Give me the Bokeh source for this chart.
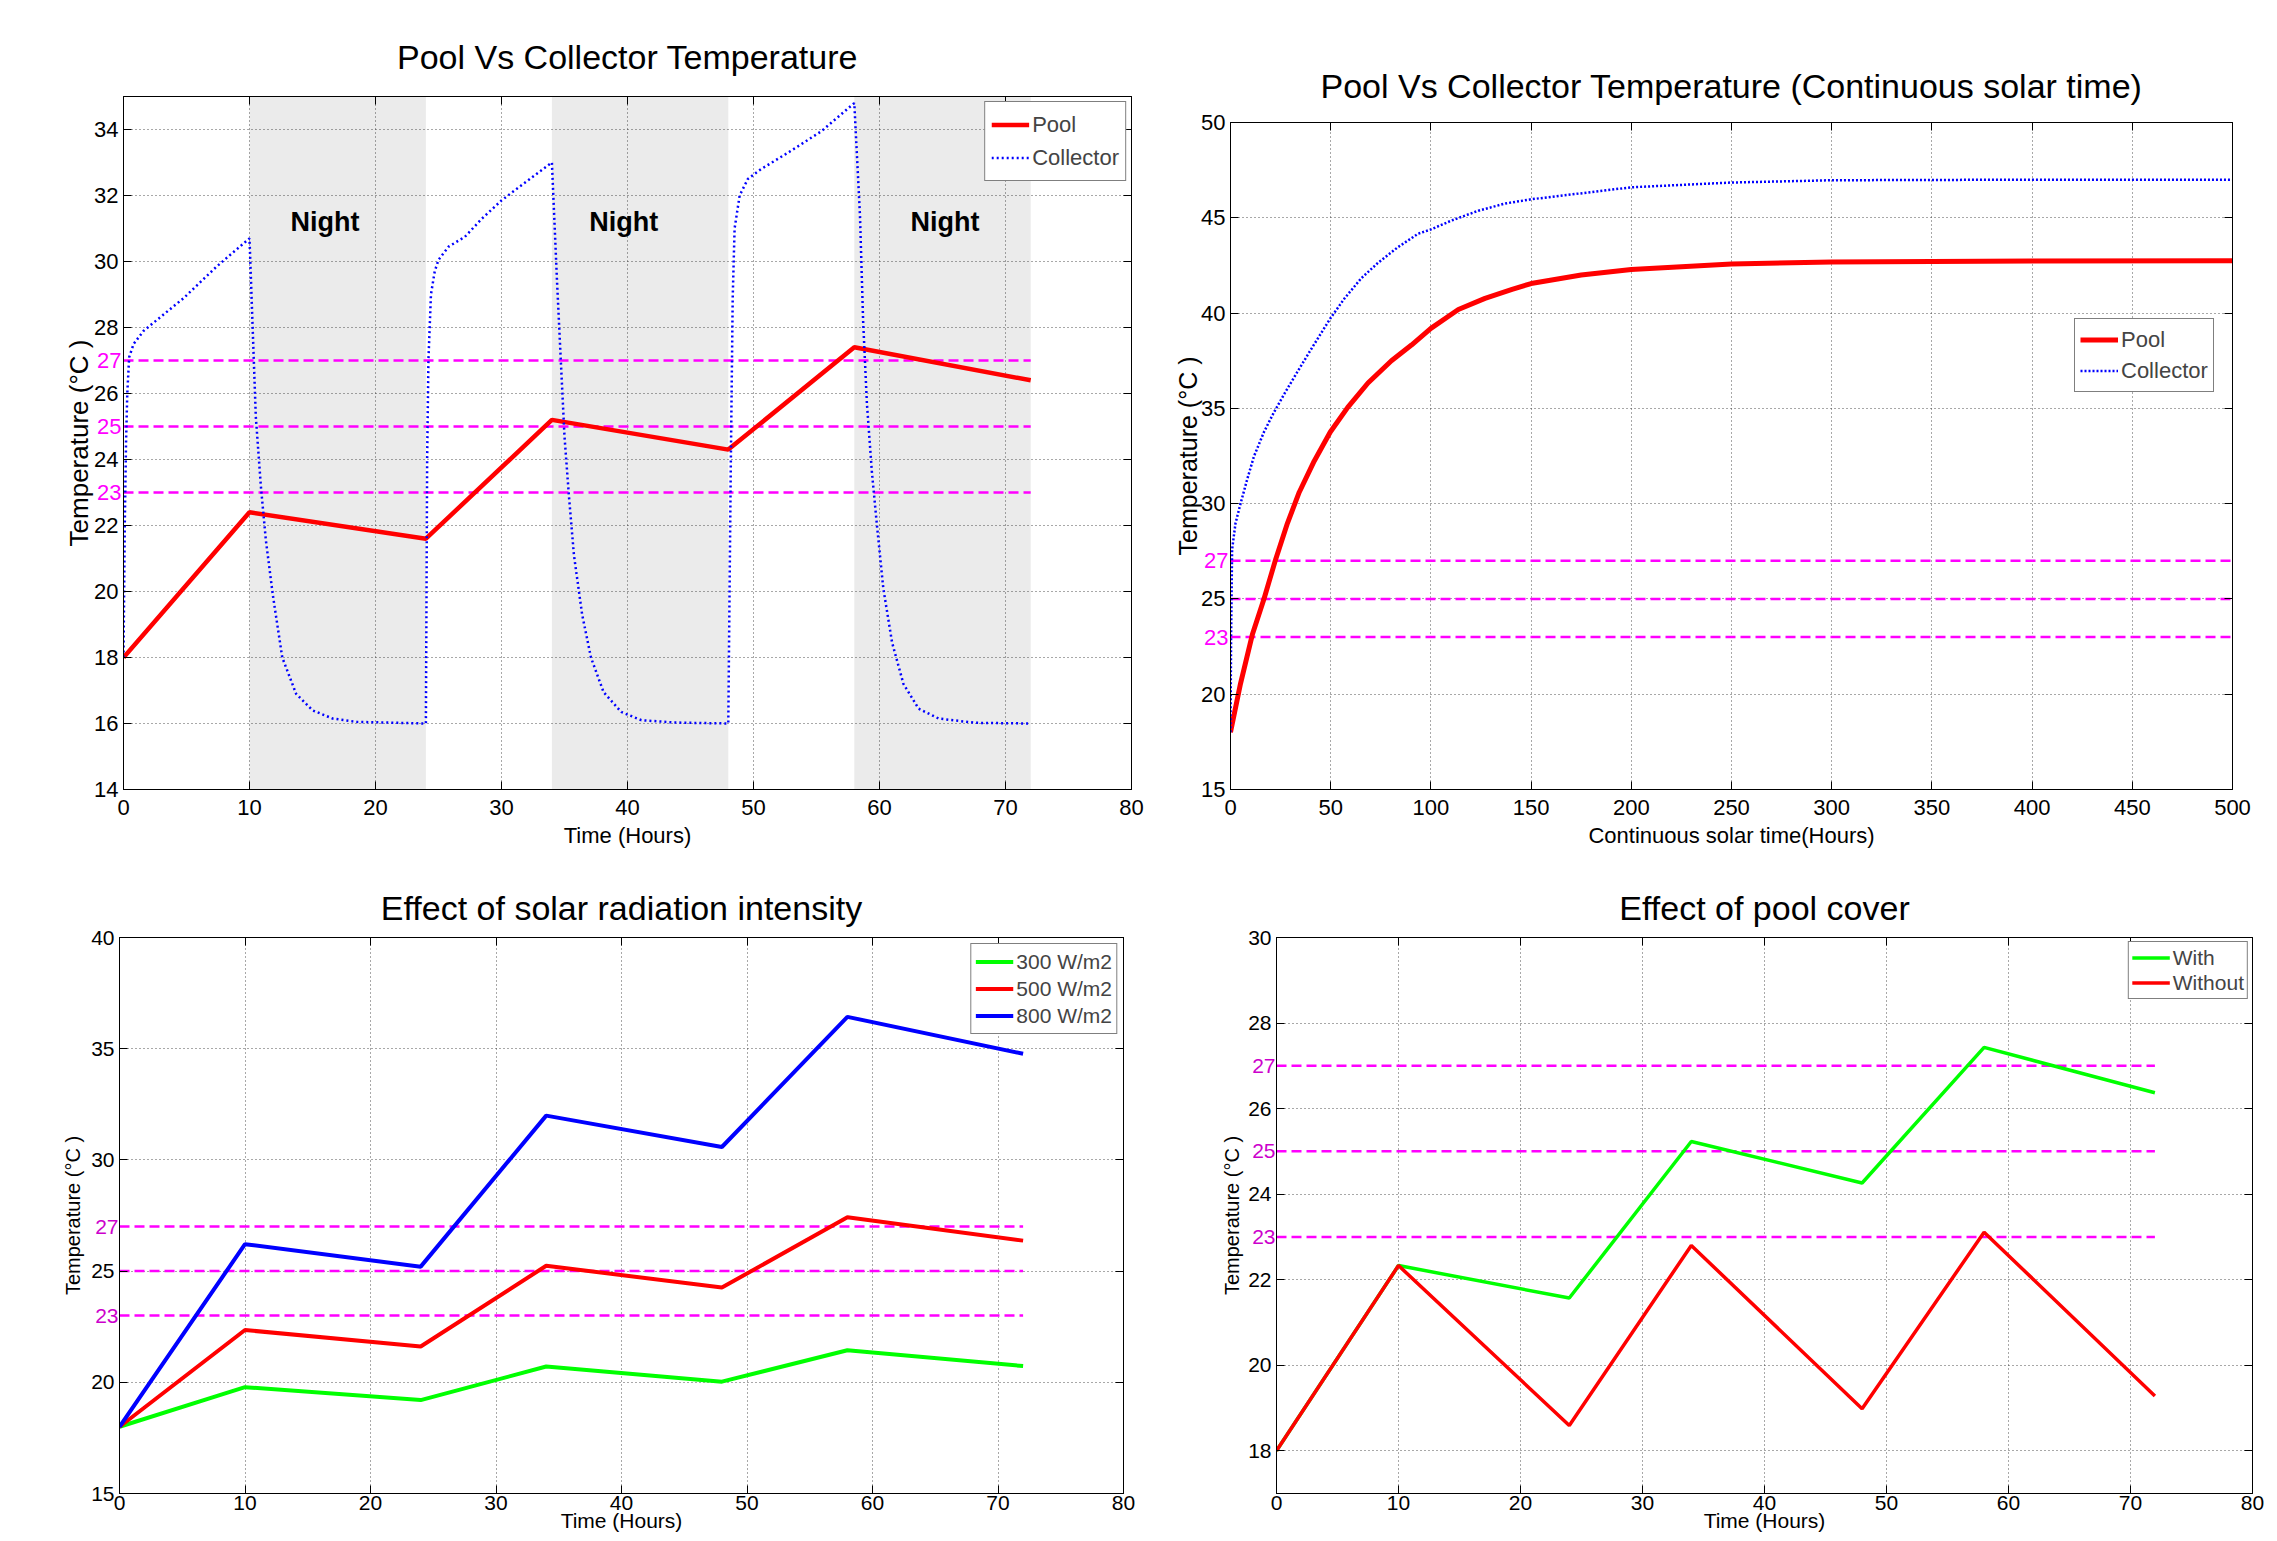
from bokeh.plotting import figure
from bokeh.models import (Range1d, LinearAxis, FixedTicker, BoxAnnotation, Spacer,
                          Legend, LegendItem, ColumnDataSource, CustomJSTickFormatter)
from bokeh.layouts import row, column
from bokeh.core.properties import value
from bokeh.embed import file_html
from bokeh.resources import INLINE

# ---------------- data ----------------
hours_knots = [0, 10, 24, 34, 48, 58, 72]
pool_temp = [18.0, 22.4, 21.6, 25.2, 24.3, 27.4, 26.4]

night_start = [10, 34, 58]
night_end = [24, 48, 72]
night_label_x = [16.0, 39.7, 65.2]
night_label_y = [31.2, 31.2, 31.2]
night_text = ["Night", "Night", "Night"]

collector_time = [0, 0.1, 0.2, 0.3, 0.45, 0.8, 1.6, 2.4, 4.8, 7.4, 10.0,
                  10.25, 10.5, 10.9, 11.3, 11.85, 12.6, 13.7, 15.0, 16.6, 18.5, 24.0,
                  24.05, 24.1, 24.2, 24.4, 24.7, 25.0, 25.8, 27.1, 28.45, 30.0, 31.9, 34.0,
                  34.4, 34.7, 35.0, 35.35, 35.75, 36.4, 37.1, 38.1, 39.5, 41.1, 43.7, 48.0,
                  48.1, 48.2, 48.35, 48.5, 48.9, 49.55, 50.6, 52.75, 55.4, 58.0,
                  58.45, 58.7, 59.0, 59.4, 59.8, 60.3, 61.0, 61.9, 63.1, 64.7, 67.6, 72.0]
collector_temp = [18.0, 22.0, 24.5, 26.0, 27.1, 27.5, 27.9, 28.15, 28.9, 29.85, 30.7,
                  28.0, 25.3, 23.2, 21.55, 19.9, 18.0, 16.9, 16.4, 16.15, 16.05, 16.0,
                  20.0, 24.0, 27.0, 29.0, 29.7, 30.05, 30.45, 30.75, 31.3, 31.85, 32.4, 33.0,
                  29.45, 27.05, 24.7, 22.9, 21.1, 19.3, 18.0, 16.95, 16.35, 16.1, 16.03, 16.0,
                  20.0, 23.9, 28.9, 31.0, 32.0, 32.5, 32.8, 33.3, 33.95, 34.8,
                  31.4, 28.2, 25.7, 23.6, 22.0, 20.1, 18.45, 17.2, 16.45, 16.15, 16.02, 16.0]

ref_levels = [23, 25, 27]

cont_time = [0, 5, 10.9, 16.7, 22.6, 28.4, 34.3, 41.8, 49.8, 58.5, 68.6, 80.3, 90.3,
             100, 113.7, 127, 140.5, 150, 175, 200, 250, 300, 400, 500]
cont_pool = [18.0, 20.56, 23.13, 25.0, 27.1, 28.97, 30.6, 32.24, 33.76, 35.05, 36.33,
             37.5, 38.32, 39.2, 40.19, 40.77, 41.24, 41.55, 42.0, 42.29, 42.57, 42.68,
             42.73, 42.74]
cont_coll_time = [0, 0.3, 0.8, 2.5, 5, 8.4, 11.7, 16.7, 21.7, 26.8, 33.4, 40.1, 49.8,
                  56.9, 65.2, 73.6, 83.6, 93.6, 100, 110.4, 123.7, 137.1, 150, 200, 250,
                  300, 400, 500]
cont_coll = [18.0, 23.1, 27.6, 28.97, 30.0, 31.3, 32.48, 33.76, 34.8, 35.75, 36.92,
             38.08, 39.72, 40.77, 41.82, 42.64, 43.46, 44.16, 44.39, 44.86, 45.37, 45.75,
             45.97, 46.6, 46.85, 46.97, 47.0, 47.0]

rad300 = [18.0, 19.78, 19.2, 20.71, 20.03, 21.44, 20.73]
rad500 = [18.0, 22.35, 21.61, 25.24, 24.26, 27.42, 26.37]
rad800 = [18.0, 26.21, 25.2, 31.99, 30.58, 36.43, 34.77]

with_cover = [18.0, 22.33, 21.57, 25.23, 24.26, 27.43, 26.37]
without_cover = [18.0, 22.33, 18.59, 22.8, 18.98, 23.11, 19.28]

x_ticks_hours = [0, 10, 20, 30, 40, 50, 60, 70, 80]
y_ticks_p1 = [14, 16, 18, 20, 22, 24, 26, 28, 30, 32, 34]
x_ticks_p2 = [0, 50, 100, 150, 200, 250, 300, 350, 400, 450, 500]
y_ticks_p2 = [15, 20, 25, 30, 35, 40, 45, 50]
y_ticks_p3 = [15, 20, 25, 30, 35, 40]
y_ticks_p4 = [18, 20, 22, 24, 26, 28, 30]

# ---------------- styling ----------------
SANS = "Liberation Sans"
MAGENTA = "#ff00ff"
PURPLE = "#cc00cc"
GRID = "#333333"


def blank_axis(ticks):
    return LinearAxis(ticker=FixedTicker(ticks=ticks),
                      formatter=CustomJSTickFormatter(code="return ''"),
                      major_tick_in=8, major_tick_out=0, minor_tick_in=0, minor_tick_out=0,
                      major_label_text_font_size="1px", major_label_standoff=0,
                      axis_line_color="black", major_tick_line_color="black")


def make_fig(w, h, borders, xr, yr, xt, yt, title, title_standoff, tick_fs,
             xlabel, xlabel_fs, x_tick_standoff, x_label_standoff,
             ylabel, ylabel_fs, y_label_standoff, mag_labels, mag_color):
    left, right, top, bottom = borders
    p = figure(width=w, height=h, x_range=Range1d(*xr), y_range=Range1d(*yr),
               output_backend="svg", toolbar_location=None,
               x_axis_location=None, y_axis_location=None,
               min_border_left=left, min_border_right=right,
               min_border_top=top, min_border_bottom=bottom,
               background_fill_color="white", border_fill_color="white")
    p.title.text = title
    p.title.align = "center"
    p.title.text_font = SANS
    p.title.text_font_size = "34px"
    p.title.text_font_style = "normal"
    p.title.text_color = "black"
    p.title.standoff = title_standoff
    p.outline_line_color = "black"
    p.outline_line_width = 1
    p.outline_line_alpha = 1

    xa = LinearAxis(ticker=FixedTicker(ticks=xt), major_tick_in=8, major_tick_out=0,
                    minor_tick_in=0, minor_tick_out=0, axis_line_color="black",
                    major_tick_line_color="black", major_label_text_font=SANS,
                    major_label_text_font_size=tick_fs, major_label_text_color="black",
                    major_label_standoff=x_tick_standoff,
                    axis_label=xlabel, axis_label_text_font=SANS,
                    axis_label_text_font_size=xlabel_fs, axis_label_text_font_style="normal",
                    axis_label_text_color="black", axis_label_standoff=x_label_standoff)
    p.add_layout(xa, "below")
    # inner y axis: ticks + black labels
    ya = LinearAxis(ticker=FixedTicker(ticks=yt), major_tick_in=8, major_tick_out=0,
                    minor_tick_in=0, minor_tick_out=0, axis_line_color="black",
                    major_tick_line_color="black", major_label_text_font=SANS,
                    major_label_text_font_size=tick_fs, major_label_text_color="black",
                    major_label_standoff=5)
    p.add_layout(ya, "left")
    # outer y axis: coloured reference labels laid onto the same column + axis title
    ym = LinearAxis(ticker=FixedTicker(ticks=mag_labels), major_tick_in=0, major_tick_out=0,
                    minor_tick_in=0, minor_tick_out=0, axis_line_color=None,
                    major_tick_line_color=None, major_label_text_font=SANS,
                    major_label_text_font_size=tick_fs, major_label_text_color=mag_color,
                    major_label_standoff=-30,
                    axis_label=ylabel, axis_label_text_font=SANS,
                    axis_label_text_font_size=ylabel_fs, axis_label_text_font_style="normal",
                    axis_label_text_color="black", axis_label_standoff=y_label_standoff)
    p.add_layout(ym, "left")
    p.add_layout(blank_axis(xt), "above")
    p.add_layout(blank_axis(yt), "right")
    for g, tk in ((p.xgrid[0], xt), (p.ygrid[0], yt)):
        g.ticker = FixedTicker(ticks=tk)
        g.grid_line_color = GRID
        g.grid_line_dash = "1 3"
        g.grid_line_width = 1
        g.grid_line_alpha = 0.85
    return p


def ref_lines(p, x0, x1):
    src = ColumnDataSource(dict(x0=[x0] * len(ref_levels), x1=[x1] * len(ref_levels),
                                y=ref_levels))
    p.segment(x0="x0", x1="x1", y0="y", y1="y", source=src, line_color=MAGENTA,
              line_width=2.5, line_dash="10 5")


def legend(p, items, loc, fs, row_h, glyph_w, padding, margin):
    lg = Legend(items=[LegendItem(label=l, renderers=[r]) for l, r in items],
                location=loc, label_text_font=SANS, label_text_font_size=fs,
                label_height=row_h, glyph_height=row_h, glyph_width=glyph_w,
                label_standoff=3, padding=padding, spacing=0, margin=margin,
                border_line_color="black", border_line_width=1,
                background_fill_color="white", background_fill_alpha=1)
    p.add_layout(lg)


# ---------------- panel 1 ----------------
p1 = make_fig(1160, 862, (123, 29, 96, 73), (0, 80), (14, 35), x_ticks_hours, y_ticks_p1,
              "Pool Vs Collector Temperature", 42, "22px",
              "Time (Hours)", "22px", 10, 5,
              "Temperature (°C )", "26px", 0, [23, 25, 27], MAGENTA)
for s, e in zip(night_start, night_end):
    p1.add_layout(BoxAnnotation(left=s, right=e, fill_color="#ebebeb", fill_alpha=1,
                                line_alpha=0, level="image"))
p1.text(x="x", y="y", text="t",
        source=ColumnDataSource(dict(x=night_label_x, y=night_label_y, t=night_text)),
        text_font=value(SANS), text_font_style="bold", text_font_size="27px",
        text_align="center", text_baseline="middle", text_color="black")
ref_lines(p1, hours_knots[0], hours_knots[-1])
r_pool = p1.line(hours_knots, pool_temp, line_color="#ff0000", line_width=4.5)
r_coll = p1.line(collector_time, collector_temp, line_color="#0000ff", line_width=2.5,
                 line_dash="2 3")
legend(p1, [("Pool", r_pool), ("Collector", r_coll)], "top_right", "22px", 33, 38, 6, 5)

# ---------------- panel 2 ----------------
p2 = make_fig(1110, 836, (70, 38, 96, 73), (0, 500), (15, 50), x_ticks_p2, y_ticks_p2,
              "Pool Vs Collector Temperature (Continuous solar time)", 36, "22px",
              "Continuous solar time(Hours)", "22px", 10, 5,
              "Temperature (°C )", "25px", -1, [23, 27], MAGENTA)
ref_lines(p2, cont_time[0], cont_time[-1])
r2_pool = p2.line(cont_time, cont_pool, line_color="#ff0000", line_width=5)
r2_coll = p2.line(cont_coll_time, cont_coll, line_color="#0000ff", line_width=2.5,
                  line_dash="2 2")
legend(p2, [("Pool", r2_pool), ("Collector", r2_coll)], (844, 397), "22px", 31, 38, 5, 0)

# ---------------- panel 3 ----------------
p3 = make_fig(1190, 677, (119, 67, 75, 46), (0, 80), (15, 40), x_ticks_hours, y_ticks_p3,
              "Effect of solar radiation intensity", 22, "21px",
              "Time (Hours)", "21px", 2, -4,
              "Temperature (°C )", "20px", 8, [23, 27], PURPLE)
ref_lines(p3, hours_knots[0], hours_knots[-1])
r300 = p3.line(hours_knots, rad300, line_color="#00ff00", line_width=4)
r500 = p3.line(hours_knots, rad500, line_color="#ff0000", line_width=4)
r800 = p3.line(hours_knots, rad800, line_color="#0000ff", line_width=4)
legend(p3, [("300 W/m2", r300), ("500 W/m2", r500), ("800 W/m2", r800)], "top_right",
       "21px", 27, 38, 4, 6)

# ---------------- panel 4 ----------------
p4 = make_fig(1080, 677, (86, 18, 75, 46), (0, 80), (17, 30), x_ticks_hours, y_ticks_p4,
              "Effect of pool cover", 22, "21px",
              "Time (Hours)", "21px", 2, -4,
              "Temperature (°C )", "20px", 6, [23, 25, 27], PURPLE)
ref_lines(p4, hours_knots[0], hours_knots[-1])
r_with = p4.line(hours_knots, with_cover, line_color="#00ff00", line_width=3.5)
r_without = p4.line(hours_knots, without_cover, line_color="#ff0000", line_width=3.5)
legend(p4, [("With", r_with), ("Without", r_without)], "top_right", "21px", 25, 38, 3, 4)

layout = column(row(p1, column(Spacer(width=1110, height=26), p2)), row(p3, p4))
open("out.html", "w").write(file_html(layout, INLINE))
